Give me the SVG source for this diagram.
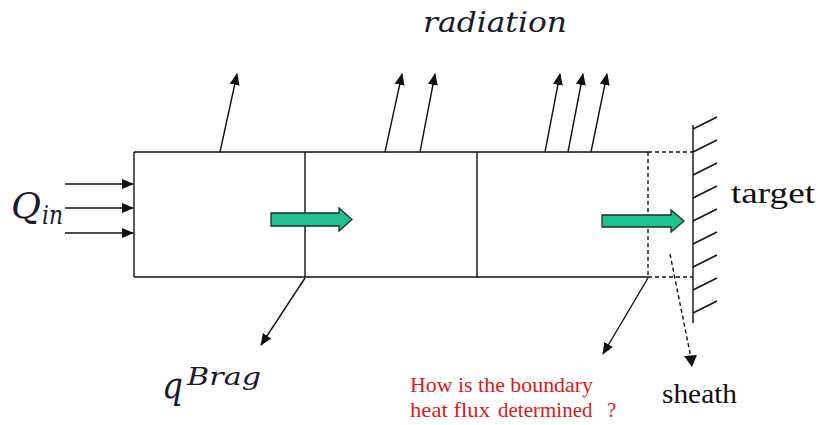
<svg xmlns="http://www.w3.org/2000/svg" width="819" height="425" viewBox="0 0 819 425">
<style>
.ln{stroke:#111;stroke-width:1.4;fill:none}
.ar{stroke:#111;stroke-width:1.4;fill:none;marker-end:url(#ah)}
.da{stroke:#111;stroke-width:1.4;fill:none;stroke-dasharray:4 3}
.math{font-family:"DejaVu Serif","Liberation Serif",serif;font-style:italic;fill:#1a1a2a}
.lbl{font-family:"Liberation Serif","Times New Roman",serif;fill:#111}
.red{font-family:"Liberation Serif","Times New Roman",serif;fill:#e01818;font-size:21px}
.big{fill:#1fc08f;stroke:#2a2a2a;stroke-width:1.3}
</style>
<defs>
<marker id="ah" markerUnits="userSpaceOnUse" markerWidth="14" markerHeight="12" refX="11" refY="5" orient="auto">
<path d="M0,0 L12,5 L0,10 Z" fill="#111"/>
</marker>
</defs>
<rect width="819" height="425" fill="#fff"/>

<g id="box">
<path class="ln" d="M134,152 H648 M134,277 H648 M134,152 V277 M305,152 V277 M477,152 V277"/>
<path class="da" d="M648,152 V277" stroke-dasharray="3 2"/>
</g>

<g id="target">
<path class="ln" d="M693,125 V323"/>
<path class="ln" d="M693,129 l24,-12 M693,152 l24,-12 M693,175 l24,-12 M693,198 l24,-12 M693,221 l24,-12 M693,244 l24,-12 M693,267 l24,-12 M693,290 l24,-12 M693,313 l24,-12"/>
<text class="lbl" x="731" y="203" font-size="30" textLength="84" lengthAdjust="spacingAndGlyphs">target</text>
</g>

<g id="connectors">
<path class="da" d="M648,152 H693 M648,277 H693"/>
<path class="ar" d="M65,184 H133"/>
<path class="ar" d="M65,208 H133"/>
<path class="ar" d="M65,233 H133"/>
<path class="ar" d="M220,152 L237,74"/>
<path class="ar" d="M385,152 L402,74"/>
<path class="ar" d="M420,152 L435,74"/>
<path class="ar" d="M545,152 L560,74"/>
<path class="ar" d="M568,152 L583,74"/>
<path class="ar" d="M591,152 L607,74"/>
<path class="ar" d="M305,278 L261,345"/>
<path class="ar" d="M648,278 L603,354"/>
<path class="da" d="M670,254 L691,358"/>
<path d="M684,356 L692,367 L697,355 Z" fill="#111"/>
</g>

<g id="flow1">
<path class="big" d="M271,213 H339 V208 L352,219.5 L339,231 V226 H271 Z"/>
</g>
<g id="flow2">
<path class="big" d="M602,215 H671 V210 L684,221 L671,232 V227 H602 Z"/>
</g>

<g id="qin">
<text class="math" x="11" y="218" font-size="36" textLength="30" lengthAdjust="spacingAndGlyphs">Q</text>
<text class="math" x="42" y="224" font-size="26" textLength="21" lengthAdjust="spacingAndGlyphs">in</text>
</g>

<g id="radiation">
<text class="math" x="423" y="32" font-size="28" textLength="144" lengthAdjust="spacingAndGlyphs">radiation</text>
</g>

<g id="qbrag">
<text class="math" x="162" y="398" font-size="38" textLength="21" lengthAdjust="spacingAndGlyphs">q</text>
<text class="math" x="187" y="385" font-size="25" textLength="74" lengthAdjust="spacingAndGlyphs">Brag</text>
</g>

<g id="question">
<text class="red" x="410" y="392" textLength="183" lengthAdjust="spacingAndGlyphs">How is the boundary</text>
<text class="red" y="417"><tspan x="410" textLength="80" lengthAdjust="spacingAndGlyphs">heat flux</tspan><tspan x="498">determined</tspan><tspan x="607">?</tspan></text>
</g>

<g id="sheath">
<text class="lbl" x="662" y="403" font-size="28" textLength="75" lengthAdjust="spacingAndGlyphs">sheath</text>
</g>
</svg>
